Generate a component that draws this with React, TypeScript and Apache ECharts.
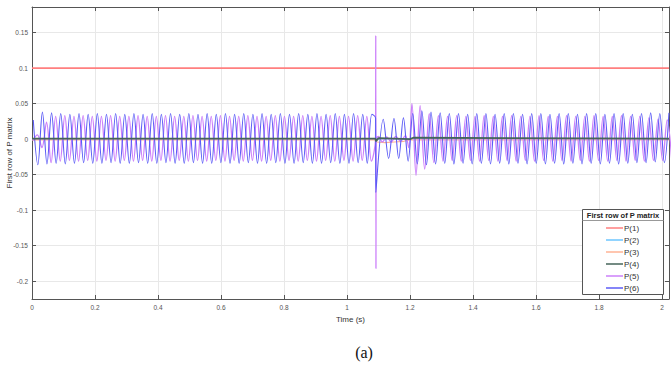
import React, { useEffect, useRef } from "react";
import * as echarts from "echarts";

// ---------- axes ----------
const X_TICKS = [0, 0.2, 0.4, 0.6, 0.8, 1, 1.2, 1.4, 1.6, 1.8, 2];
const Y_TICKS = [-0.2, -0.15, -0.1, -0.05, 0, 0.05, 0.1, 0.15];
const X_MIN = 0;
const X_MAX = 2.022;
const Y_MIN = -0.225;
const Y_MAX = 0.186;

// ---------- series ----------
const SERIES_NAMES = ["P(1)", "P(2)", "P(3)", "P(4)", "P(5)", "P(6)"];
const SERIES_COLORS = ["#ff7f7f", "#6cc6ff", "#ffb394", "#46645a", "#cc80fa", "#5c5cf6"];

// sampling step of the oscillation extremes (half period, s)
const HALF_PERIOD = 0.014525;

// P(1): constant
const P1_T = [0, 2.022];
const P1_V = [0.1, 0.1];

// P(2): near zero
const P2_T = [0, 1.09, 1.095, 1.2, 2.022];
const P2_V = [0.0005, 0.0005, 0.001, 0.0005, 0.0005];

// P(3): near zero, small dip during the disturbance
const P3_T = [0, 1.089, 1.095, 1.12, 1.15, 1.18, 1.2, 2.022];
const P3_V = [-0.001, -0.001, -0.004, -0.005, -0.004, -0.003, -0.001, -0.001];

// P(4): near zero
const P4_T = [0, 1.09, 1.092, 1.1, 1.2, 1.21, 2.022];
const P4_V = [0.0008, 0.0008, -0.003, 0.0015, 0.0, 0.002, 0.0008];

// P(5): extremes before the disturbance (start at 0.0025 s, every half period)
const P5_PRE_START = 0.0025;
const P5_PRE = [
  -0.002, 0.006, -0.012, 0.024, -0.033, 0.032, -0.031, 0.033, -0.030, 0.032,
  -0.031, 0.033, -0.030, 0.032, -0.031, 0.032, -0.030, 0.033, -0.031, 0.032,
  -0.030, 0.032, -0.031, 0.033, -0.030, 0.032, -0.031, 0.032, -0.030, 0.033,
  -0.031, 0.032, -0.030, 0.032, -0.031, 0.033, -0.030, 0.032, -0.031, 0.032,
  -0.030, 0.033, -0.031, 0.032, -0.030, 0.032, -0.031, 0.033, -0.030, 0.032,
  -0.031, 0.032, -0.030, 0.033, -0.031, 0.032, -0.030, 0.032, -0.031, 0.033,
  -0.030, 0.032, -0.031, 0.032, -0.030, 0.033, -0.031, 0.032, -0.030, 0.032,
  -0.031, 0.033, -0.030, 0.032, -0.031,
];
const P5_FAULT_T = [1.0905, 1.0912, 1.0918, 1.0925, 1.1, 1.112, 1.126, 1.14, 1.155, 1.17, 1.185, 1.196, 1.206, 1.219, 1.232];
const P5_FAULT_V = [0.0, 0.146, -0.182, 0.0, 0.004, -0.004, 0.003, -0.004, 0.004, -0.003, 0.005, -0.012, 0.05, -0.051, 0.047];
const P5_POST_START = 1.2465;
const P5_POST = [
  -0.042, 0.036, -0.033, 0.033, -0.031, 0.032, -0.030, 0.033, -0.031, 0.032,
  -0.030, 0.032, -0.031, 0.033, -0.030, 0.032, -0.031, 0.032, -0.030, 0.033,
  -0.031, 0.032, -0.030, 0.032, -0.031, 0.033, -0.030, 0.032, -0.031, 0.032,
  -0.030, 0.033, -0.031, 0.032, -0.030, 0.032, -0.031, 0.033, -0.030, 0.032,
  -0.031, 0.032, -0.030, 0.033, -0.031, 0.032, -0.030, 0.032, -0.031, 0.030,
  -0.030, 0.028, -0.030, 0.027, -0.030,
];

// P(6): extremes before the disturbance (start at 0.004 s, every half period)
const P6_PRE_START = 0.004;
const P6_PRE = [
  0.027, -0.036, 0.038, -0.035, 0.037, -0.034, 0.036, -0.035, 0.035, -0.034,
  0.036, -0.033, 0.035, -0.034, 0.036, -0.034, 0.035, -0.033, 0.036, -0.034,
  0.035, -0.034, 0.036, -0.033, 0.035, -0.034, 0.036, -0.034, 0.035, -0.033,
  0.036, -0.034, 0.035, -0.034, 0.036, -0.033, 0.035, -0.034, 0.036, -0.034,
  0.035, -0.033, 0.036, -0.034, 0.035, -0.034, 0.036, -0.033, 0.035, -0.034,
  0.036, -0.034, 0.035, -0.033, 0.036, -0.034, 0.035, -0.034, 0.036, -0.033,
  0.035, -0.034, 0.036, -0.034, 0.035, -0.033, 0.036, -0.034, 0.035, -0.034,
  0.036, -0.033, 0.035, -0.034, 0.035,
];
const P6_FAULT_T = [1.0905, 1.0915, 1.115, 1.132, 1.149, 1.164, 1.179, 1.194, 1.2085];
const P6_FAULT_V = [0.03, -0.075, 0.028, -0.027, 0.029, -0.027, 0.03, -0.031, 0.036];
const P6_POST_START = 1.223;
const P6_POST = [
  -0.035, 0.04, -0.036, 0.038, -0.035, 0.037, -0.034, 0.036, -0.035, 0.036,
  -0.034, 0.035, -0.035, 0.036, -0.034, 0.036, -0.035, 0.035, -0.034, 0.036,
  -0.035, 0.036, -0.034, 0.035, -0.035, 0.036, -0.034, 0.036, -0.035, 0.035,
  -0.034, 0.036, -0.035, 0.036, -0.034, 0.035, -0.035, 0.036, -0.034, 0.036,
  -0.035, 0.035, -0.034, 0.036, -0.035, 0.036, -0.034, 0.035, -0.033, 0.036,
  -0.033, 0.037, -0.032, 0.036, -0.033, 0.037,
];

const LEGEND_TITLE = "First row of P matrix";
const Y_NAME = "First row of P matrix";
const X_NAME = "Time (s)";
const CAPTION = "(a)";

// ---------- helpers ----------
const onGrid = (start: number, values: number[]) =>
  values.map((v, i) => [start + i * HALF_PERIOD, v]);
const zipTV = (ts: number[], vs: number[]) => ts.map((t, i) => [t, vs[i]]);
const fmt = (v: number) => String(Math.round(v * 1000) / 1000);

const FONT = "'Liberation Sans', Arial, sans-serif";
const AXIS_COLOR = "#555555";

export default function App() {
  const ref = useRef<HTMLDivElement>(null);

  useEffect(() => {
    if (!ref.current) return;
    const chart = echarts.init(ref.current, undefined, { renderer: "svg" });

    const datas = [
      zipTV(P1_T, P1_V),
      zipTV(P2_T, P2_V),
      zipTV(P3_T, P3_V),
      zipTV(P4_T, P4_V),
      [...onGrid(P5_PRE_START, P5_PRE), ...zipTV(P5_FAULT_T, P5_FAULT_V), ...onGrid(P5_POST_START, P5_POST)],
      [...onGrid(P6_PRE_START, P6_PRE), ...zipTV(P6_FAULT_T, P6_FAULT_V), ...onGrid(P6_POST_START, P6_POST)],
    ];
    const widths = [1.6, 1.2, 1.2, 1.8, 1.3, 1.1];
    const zs = [2, 2, 2, 5, 3, 4];
    const smooth = [false, false, false, false, 0.35, 0.35];

    const series = SERIES_NAMES.map((name, i) => ({
      name,
      type: "line",
      data: datas[i],
      showSymbol: false,
      symbol: "none",
      smooth: smooth[i],
      z: zs[i],
      lineStyle: { color: SERIES_COLORS[i], width: widths[i] },
      itemStyle: { color: SERIES_COLORS[i] },
    }));

    const xCommon = { type: "value", min: X_MIN, max: X_MAX };
    const yCommon = { type: "value", min: Y_MIN, max: Y_MAX };

    const option: any = {
      animation: false,
      backgroundColor: "#ffffff",
      textStyle: { fontFamily: FONT },
      grid: { left: 32, right: 2, top: 7, bottom: 69, containLabel: false, outerBoundsMode: "none" },
      xAxis: [
        {
          ...xCommon,
          position: "bottom",
          name: X_NAME,
          nameLocation: "middle",
          nameGap: 14,
          nameTextStyle: { fontSize: 8, color: "#333", fontFamily: FONT },
          axisLine: { show: true, onZero: false, lineStyle: { color: AXIS_COLOR, width: 1 } },
          axisTick: { show: true, inside: true, length: 4, customValues: X_TICKS, lineStyle: { color: AXIS_COLOR } },
          axisLabel: { show: true, customValues: X_TICKS, fontSize: 6.5, color: "#555", margin: 5, formatter: fmt, fontFamily: FONT },
          splitLine: { show: true, lineStyle: { color: "#e8e8e8", width: 1 } },
        },
        {
          ...xCommon,
          position: "top",
          axisLine: { show: true, onZero: false, lineStyle: { color: AXIS_COLOR, width: 1 } },
          axisTick: { show: true, inside: true, length: 4, customValues: X_TICKS, lineStyle: { color: AXIS_COLOR } },
          axisLabel: { show: false },
          splitLine: { show: false },
        },
      ],
      yAxis: [
        {
          ...yCommon,
          position: "left",
          name: Y_NAME,
          nameLocation: "middle",
          nameGap: 19,
          nameMoveOverlap: false,
          nameTextStyle: { fontSize: 8, color: "#333", fontFamily: FONT },
          axisLine: { show: true, onZero: false, lineStyle: { color: AXIS_COLOR, width: 1 } },
          axisTick: { show: true, inside: true, length: 4, customValues: Y_TICKS, lineStyle: { color: AXIS_COLOR } },
          axisLabel: { show: true, customValues: Y_TICKS, fontSize: 6.5, color: "#555", margin: 4, formatter: fmt, fontFamily: FONT },
          splitLine: { show: true, lineStyle: { color: "#e8e8e8", width: 1 } },
        },
        {
          ...yCommon,
          position: "right",
          axisLine: { show: true, onZero: false, lineStyle: { color: AXIS_COLOR, width: 1 } },
          axisTick: { show: true, inside: true, length: 4, customValues: Y_TICKS, lineStyle: { color: AXIS_COLOR } },
          axisLabel: { show: false },
          splitLine: { show: false },
        },
      ],
      legend: {
        show: true,
        data: SERIES_NAMES,
        orient: "vertical",
        left: 606,
        top: 223,
        itemWidth: 17,
        itemHeight: 1.5,
        itemGap: 2,
        icon: "rect",
        padding: 0,
        z: 100,
        selectedMode: false,
        textStyle: { fontSize: 8, color: "#333", lineHeight: 10, padding: [0, 0, 0, -4], fontFamily: FONT },
      },
      graphic: [
        {
          type: "rect",
          z: 50,
          shape: { x: 582.5, y: 209.5, width: 81, height: 85 },
          style: { fill: "#ffffff", stroke: "#555", lineWidth: 1 },
        },
        {
          type: "line",
          z: 51,
          shape: { x1: 582.5, y1: 220.5, x2: 663.5, y2: 220.5 },
          style: { stroke: "#999", lineWidth: 1 },
        },
        {
          type: "text",
          z: 52,
          x: 623,
          y: 215,
          style: {
            text: LEGEND_TITLE,
            fontSize: 7.5,
            fontWeight: "bold",
            fill: "#222",
            textAlign: "center",
            textVerticalAlign: "middle",
            fontFamily: FONT,
          },
        },
        {
          type: "text",
          z: 52,
          x: 364,
          y: 352,
          style: {
            text: CAPTION,
            fontSize: 16,
            fill: "#111",
            textAlign: "center",
            textVerticalAlign: "middle",
            fontFamily: "'Liberation Serif', 'Times New Roman', serif",
          },
        },
      ],
      series,
    };

    chart.setOption(option);
    return () => chart.dispose();
  }, []);

  return (
    <div
      ref={ref}
      style={{ position: "fixed", left: 0, top: 0, width: 671, height: 368, background: "#fff" }}
    />
  );
}
